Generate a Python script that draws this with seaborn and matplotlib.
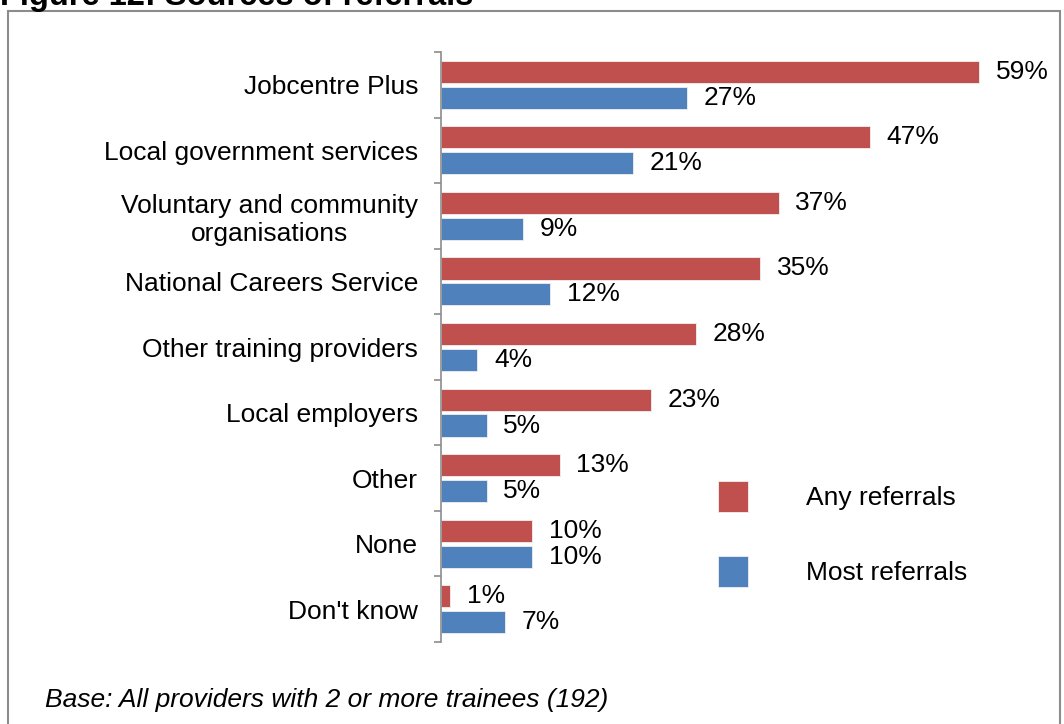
import pandas as pd
import matplotlib.pyplot as plt
import matplotlib.patches as mpatches
import seaborn as sns

# Daten aus der Grafik
categories = [
    "Jobcentre Plus",
    "Local government services",
    "Voluntary and community\norganisations",
    "National Careers Service",
    "Other training providers",
    "Local employers",
    "Other",
    "None",
    "Don't know",
]
any_referrals = [59, 47, 37, 35, 28, 23, 13, 10, 1]
most_referrals = [27, 21, 9, 12, 4, 5, 5, 10, 7]
series_names = ["Any referrals", "Most referrals"]
colors = ["#C0504D", "#4F81BD"]

df = pd.DataFrame({
    "category": categories * 2,
    "value": any_referrals + most_referrals,
    "series": [series_names[0]] * len(categories) + [series_names[1]] * len(categories),
})

sns.set_style("white")
plt.rcParams["font.family"] = ["Liberation Sans", "DejaVu Sans"]
plt.rcParams["text.color"] = "black"
plt.rcParams["ytick.labelcolor"] = "black"

W, H = 1064, 724
fig = plt.figure(figsize=(W / 100, H / 100), dpi=100)
ax = fig.add_axes([441 / W, 1 - 642 / H, 593 / W, 590 / H])

sns.barplot(data=df, y="category", x="value", hue="series", orient="h",
            palette=colors, saturation=1, width=0.79, gap=0.15, order=categories,
            hue_order=series_names, edgecolor="#f0f0f0", linewidth=0.6,
            ax=ax, legend=True)

ax.set_xlim(0, 65)
ax.set_ylim(len(categories) - 0.5, -0.5)
ax.set_xlabel("")
ax.set_ylabel("")
ax.set_xticks([])

# Ticks an den Gruppengrenzen, Beschriftungen in der Mitte
ax.set_yticks([i + 0.5 for i in range(-1, len(categories))])
ax.set_yticklabels([])
ax.set_yticks(range(len(categories)), minor=True)
ax.set_yticklabels(categories, minor=True, fontsize=19, multialignment="center",
                   color="black")
ax.tick_params(axis="y", which="major", length=5, width=1.2, color="#8c8c8c", left=True)
ax.tick_params(axis="y", which="minor", length=0, pad=16.5)

for side in ["top", "right", "bottom"]:
    ax.spines[side].set_visible(False)
ax.spines["left"].set_color("#8c8c8c")
ax.spines["left"].set_linewidth(1.2)

for cont in ax.containers:
    ax.bar_label(cont, fmt="%d%%", padding=12, fontsize=19, color="black")

handles, labels = ax.get_legend_handles_labels()
ax.legend(handles, labels, loc="upper left",
          bbox_to_anchor=(718 / W, 1 - 481 / H), bbox_transform=fig.transFigure,
          frameon=False, fontsize=19, handlelength=1.14, handleheight=1.45,
          handletextpad=2.2, labelspacing=1.65, borderpad=0, borderaxespad=0,
          labelcolor="black")

# Rahmen und Texte
fig.patches.append(mpatches.Rectangle((8 / W, -0.05), 1052 / W, 1.05 - 11 / H,
                                      transform=fig.transFigure, fill=False,
                                      edgecolor="#8c8c8c", linewidth=1.5))
fig.text(0, 1 - 5 / H, "Figure 12: Sources of referrals", fontsize=23.5,
         fontweight="bold", va="baseline", ha="left", color="black")
fig.text(45 / W, 1 - 700 / H, "Base: All providers with 2 or more trainees (192)",
         fontsize=19, style="italic", va="center", ha="left", color="black")

fig.savefig("out.png", dpi=100)
